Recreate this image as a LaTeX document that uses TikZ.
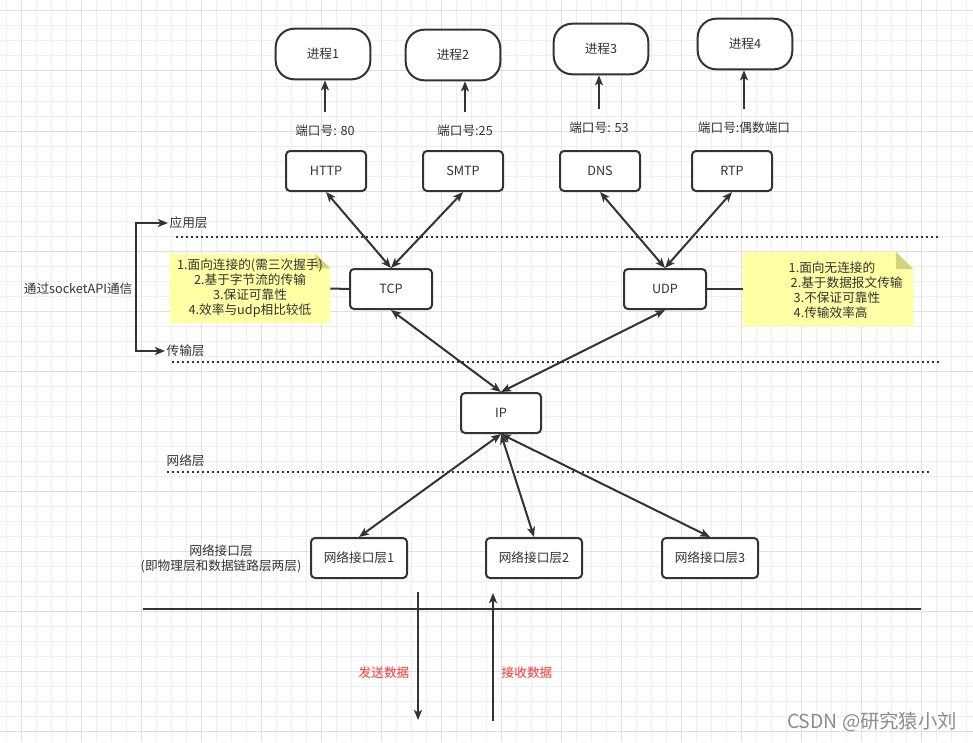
\documentclass[tikz,border=0pt]{standalone}
\usepackage{fontspec}
\setmainfont{Noto Sans CJK SC}
\usetikzlibrary{arrows.meta, positioning, backgrounds}
\definecolor{ink}{HTML}{333333}
\definecolor{notefill}{HTML}{FFFFA6}
\definecolor{notefold}{HTML}{D2D27A}
\definecolor{gridminor}{HTML}{EEEEEE}
\definecolor{gridmajor}{HTML}{E0E0E0}
\definecolor{sendred}{HTML}{FF3333}
\tikzset{
  >={Stealth[length=7.5pt, width=6pt, inset=1.8pt]},
  every node/.style={text=ink, font=\fontsize{9.5}{11.25}\selectfont},
  box/.style={draw=ink, line width=1.5pt, fill=white, rounded corners=3pt,
    minimum width=60pt, minimum height=30pt},
  proc/.style={box, rounded corners=14pt, minimum width=71pt, minimum height=38pt},
  ifbox/.style={box, minimum width=72pt},
  link/.style={<->, draw=ink, line width=1.5pt},
  uplink/.style={->, draw=ink, line width=1.5pt},
  layerline/.style={draw=ink, line width=1.5pt, dash pattern=on 1.5pt off 2.25pt},
  notebox/.style={inner sep=0pt, align=center},
  redlabel/.style={text=sendred},
}
% yellow note with folded corner, drawn behind the node
\newcommand{\notebg}[2]{%
  \fill[notefill] (#1.north west) -- ([xshift=-#2]#1.north east)
    -- ([yshift=-#2]#1.north east) -- (#1.south east) -- (#1.south west) -- cycle;
  \fill[notefold] ([xshift=-#2]#1.north east) -- ([xshift=-#2,yshift=-#2]#1.north east)
    -- ([yshift=-#2]#1.north east) -- cycle;
}

\begin{document}
\begin{tikzpicture}[x=0.75pt, y=-0.75pt]
  \useasboundingbox (0,0) rectangle (973,742);

  % processes
  \node[proc] (p1) at (323,54) {进程1};
  \node[proc] (p2) at (453,55) {进程2};
  \node[proc] (p3) at (601,49) {进程3};
  \node[proc] (p4) at (745,44) {进程4};

  % port numbers
  \node (port1) at (325,131) {端口号: 80};
  \node (port2) at (465,131) {端口号:25};
  \node (port3) at (599,128) {端口号: 53};
  \node (port4) at (744,128) {端口号:偶数端口};
  \foreach \i in {1,...,4}
    \draw[uplink, shorten <=6pt] (port\i.north) -- (port\i.north |- p\i.south);

  % application layer
  \node[box] (http) at (326,171) {HTTP};
  \node[box] (smtp) at (463,171) {SMTP};
  \node[box] (dns) at (600,171) {DNS};
  \node[box] (rtp) at (732,171) {RTP};

  % transport and network layer
  \node[box, minimum width=61.5pt] (tcp) at (391,289) {TCP};
  \node[box, minimum width=61.5pt] (udp) at (665,289) {UDP};
  \node[box] (ip) at (501,413) {IP};

  % interface layer
  \node[ifbox] (if1) at (359,558) {网络接口层1};
  \node[ifbox] (if2) at (534,558) {网络接口层2};
  \node[ifbox] (if3) at (710,558) {网络接口层3};
  \node[align=center] (iflabel) at (221,558.5) {网络接口层\\(即物理层和数据链路层两层)};

  % links
  \draw[link] (http.south) -- (tcp.north);
  \draw[link] (smtp.south) -- (tcp.north);
  \draw[link] (dns.south) -- (udp.north);
  \draw[link] (rtp.south) -- (udp.north);
  \draw[link] (tcp.south) -- (ip.north);
  \draw[link] (udp.south) -- (ip.north);
  \draw[link] (ip.south) -- (if1.north);
  \draw[link] (ip.south) -- (if2.north);
  \draw[link] (ip.south) -- (if3.north);

  % notes
  \node[notebox, minimum width=120pt, minimum height=51.75pt] (tcpnote) at (250,288.5)
    {1.面向连接的(需三次握手)\\2.基于字节流的传输\\3.保证可靠性\\4.效率与udp相比较低};
  \node[notebox, minimum width=127.5pt, minimum height=55.5pt] (udpnote) at (828,289) {};
  \node[anchor=west, align=left] (udptext) at (784,290.5)
    {1.面向无连接的\\\hspace*{1.5pt}2.基于数据报文传输\\\hspace*{3.75pt}3.不保证可靠性\\\hspace*{3.75pt}4.传输效率高};
  \draw[ink, line width=1.5pt] (tcp.west) -- (tcpnote.east);
  \draw[ink, line width=1.5pt] (udp.east) -- (udpnote.west);

  % layers
  \node[anchor=west, inner sep=1pt] (yingyong) at (168,223) {应用层};
  \node[anchor=west, inner sep=1pt] (chuanshu) at (165,351) {传输层};
  \node[anchor=west, inner sep=1pt] (wangluo) at (165,461) {网络层};
  \node[anchor=east, inner sep=1pt] (socket) at (134,289) {通过socketAPI通信};
  \draw[link] (yingyong.west) -- ++(-32,0) |- (chuanshu.west);
  \draw[layerline] (176,237) -- (940,237);
  \draw[layerline] (172,362) -- (940,362);
  \draw[layerline] (167,472) -- (930,472);

  % sending and receiving
  \draw[ink, line width=1.5pt] (143,609) -- (921,609);
  \coordinate (sendtop) at (418,592);
  \coordinate (sendend) at (418,720);
  \coordinate (recvtop) at (493,593);
  \coordinate (recvend) at (493,721);
  \draw[uplink] (sendtop) -- (sendend);
  \draw[uplink] (recvend) -- (recvtop);
  \node[redlabel] (send) at (384,673) {发送数据};
  \node[redlabel] (recv) at (527,673) {接收数据};

  \node[text=black!45, font=\fontsize{14.5}{16}\selectfont] (mark) at (872,722) {CSDN @研究猿小刘};

  \begin{scope}[on background layer]
    \fill[white] (0,0) rectangle (973,742);
    \foreach \gx in {6,21,...,973}
      \draw[gridminor, line width=0.75pt] (\gx,0) -- (\gx,742);
    \foreach \gy in {11,26,...,742}
      \draw[gridminor, line width=0.75pt] (0,\gy) -- (973,\gy);
    \foreach \gx in {21,81,...,973}
      \draw[gridmajor, line width=0.75pt] (\gx,0) -- (\gx,742);
    \foreach \gy in {11,71,...,742}
      \draw[gridmajor, line width=0.75pt] (0,\gy) -- (973,\gy);
    \notebg{tcpnote}{11pt}
    \notebg{udpnote}{13pt}
  \end{scope}
\end{tikzpicture}
\end{document}
